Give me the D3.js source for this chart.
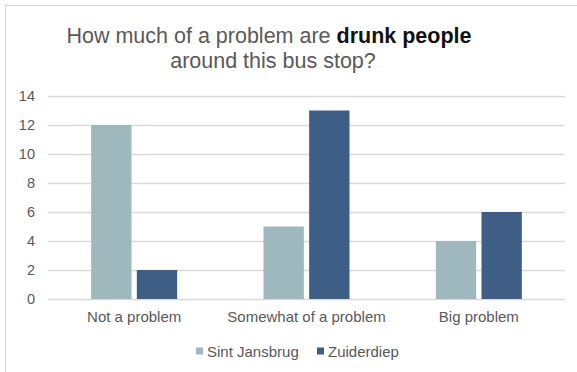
<!DOCTYPE html>
<html>
<head>
<meta charset="utf-8">
<script src="https://cdn.jsdelivr.net/npm/d3@7"></script>
<style>
  html, body { margin: 0; padding: 0; background: #fff; }
  svg { display: block; font-family: Arial, "Liberation Sans", sans-serif; }
</style>
</head>
<body>
<svg id="chart" width="577" height="372"></svg>
<script>
// Survey answers per bus stop
const categories = ["Not a problem", "Somewhat of a problem", "Big problem"];
const seriesNames = ["Sint Jansbrug", "Zuiderdiep"];
const sintJansbrug = [12, 5, 4];
const zuiderdiep = [2, 13, 6];
const yTicks = [0, 2, 4, 6, 8, 10, 12, 14];
const colors = ["#9fb8bd", "#3e5e86"];

const rows = categories.map((c, i) => ({
  category: c,
  values: [sintJansbrug[i], zuiderdiep[i]]
}));

const svg = d3.select("#chart");
const W = 577, H = 372;
const plot = { left: 48, right: 565, top: 96, bottom: 299 };
const FONT = "Arial, 'Liberation Sans', sans-serif";

// Outer frame (only top and left edges fall inside the view)
svg.append("rect")
  .attr("x", 5.5).attr("y", 5.5)
  .attr("width", W + 20).attr("height", H + 20)
  .attr("fill", "#fff")
  .attr("stroke", "#d9d9d9").attr("stroke-width", 1);

// Title
const title = svg.append("text")
  .attr("text-anchor", "middle")
  .attr("font-size", 21.5)
  .attr("fill", "#595959");
const l1 = title.append("tspan").attr("x", 269).attr("y", 43);
l1.append("tspan").text("How much of a problem are ");
l1.append("tspan").attr("font-weight", "bold").attr("fill", "#111").text("drunk people");
title.append("tspan").attr("x", 273).attr("y", 68).text("around this bus stop?");

const x = d3.scaleBand().domain(categories).range([plot.left, plot.right]).padding(0);
const y = d3.scaleLinear().domain([0, 14]).range([plot.bottom, plot.top]);
const barW = 38, barGap = 10;
const xs = d3.scaleBand().domain(seriesNames)
  .range([-(barW + barGap / 2), barW + barGap / 2])
  .paddingInner(barGap / (2 * barW + barGap));

// Gridlines
svg.append("g")
  .selectAll("line")
  .data(yTicks)
  .join("line")
  .attr("x1", plot.left).attr("x2", plot.right)
  .attr("y1", d => Math.round(y(d)) + 0.5)
  .attr("y2", d => Math.round(y(d)) + 0.5)
  .attr("stroke", "#d9d9d9").attr("stroke-width", 1.3);

// Y axis labels
const yAxis = svg.append("g")
  .attr("transform", `translate(${plot.left - 13},0)`)
  .call(d3.axisLeft(y).tickValues(yTicks).tickSize(0).tickPadding(0));
yAxis.select(".domain").remove();
yAxis.selectAll("text")
  .attr("font-size", 14.5).attr("fill", "#595959")
  .attr("font-family", FONT);

// Bars
const groups = svg.append("g")
  .selectAll("g")
  .data(rows)
  .join("g")
  .attr("transform", d => `translate(${x(d.category) + x.bandwidth() / 2},0)`);

groups.selectAll("rect")
  .data(d => d.values.map((v, i) => ({ name: seriesNames[i], value: v, i })))
  .join("rect")
  .attr("x", d => xs(d.name))
  .attr("width", xs.bandwidth())
  .attr("y", d => y(d.value))
  .attr("height", d => y(0) - y(d.value))
  .attr("fill", d => colors[d.i]);

// X axis labels
const xAxis = svg.append("g")
  .attr("transform", `translate(0,${plot.bottom})`)
  .call(d3.axisBottom(x).tickSize(0).tickPadding(0));
xAxis.select(".domain").remove();
xAxis.selectAll("text")
  .attr("dy", null)
  .attr("y", 23)
  .attr("font-size", 15).attr("fill", "#595959")
  .attr("font-family", FONT);

// Legend
const legend = svg.append("g").attr("font-size", 15).attr("fill", "#595959");
const legendX = [196, 317];
seriesNames.forEach((name, i) => {
  const g = legend.append("g").attr("transform", `translate(${legendX[i]},351)`);
  g.append("rect").attr("x", 0).attr("y", -3.5).attr("width", 7).attr("height", 7).attr("fill", colors[i]);
  g.append("text").attr("x", 11).attr("y", 5.5).text(name);
});
</script>
</body>
</html>
